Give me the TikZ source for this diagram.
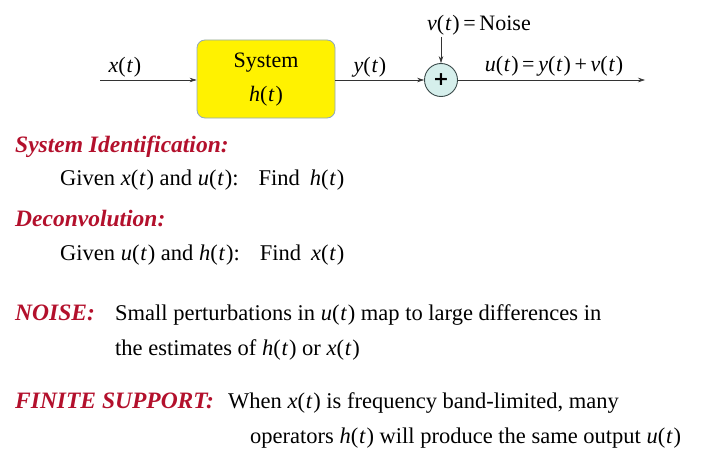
\documentclass[tikz,border=0pt]{standalone}
\usepackage{fontspec}
\setmainfont{Liberation Serif}
\newfontfamily\plusfont{DejaVu Sans}
\usetikzlibrary{arrows.meta}
\definecolor{hdred}{HTML}{B3102C}
\definecolor{boxyellow}{HTML}{FFF200}
\definecolor{boxedge}{HTML}{8FA8C0}
\definecolor{sumfill}{HTML}{D6EFEC}
\definecolor{sumedge}{HTML}{3A4A4A}
\newcommand{\mi}[1]{\textit{#1}}
\newcommand{\fn}[1]{\textit{#1}(\kern0.8pt\textit{t}\kern0.8pt)}
\tikzset{
  x=1pt, y=-1pt,
  txt/.style={anchor=base west, inner sep=0pt, font=\fontsize{22.5}{26}\selectfont},
  head/.style={txt, text=hdred, font=\fontsize{23.5}{26}\selectfont\bfseries\itshape},
  lbl/.style={anchor=base, inner sep=0pt, font=\fontsize{22}{26}\selectfont},
  sig/.style={-{Stealth[length=7pt,width=4.5pt]}, line width=0.6pt, draw=black!80},
}
\begin{document}
\begin{tikzpicture}
\useasboundingbox (0,0) rectangle (718,452);
% block diagram
\coordinate (in) at (100,80);
\node[draw=boxedge, line width=0.8pt, fill=boxyellow, rounded corners=8pt, minimum width=138pt, minimum height=78pt, inner sep=0pt] (sys) at (266,79) {};
\node[lbl] (systxt) at (266,68) {System};
\node[lbl] (htxt) at (266,102) {\fn{h}};
\node[circle, draw=sumedge, line width=0.9pt, fill=sumfill, minimum size=33pt, inner sep=0pt] (sum) at (441,80) {\plusfont\fontsize{19}{19}\selectfont\bfseries +};
\coordinate (noisetop) at (441,37);
\coordinate (out) at (645,80);
\draw[sig] (in) -- (sys.west |- in);
\draw[sig] (sys.east |- sum) -- (sum.west);
\draw[sig] (noisetop) -- (sum.north);
\draw[sig] (sum.east) -- (out);
\node[lbl] (xl) at (125,73) {\fn{x}};
\node[lbl] (yl) at (370,73) {\fn{y}};
\node[lbl] (vl) at (479,31) {\fn{v}\,=\,Noise};
\node[lbl] (ul) at (554,72) {\fn{u}\,=\,\fn{y}\,+\,\fn{v}};
% text
\node[head] (h1) at (15,152) {System Identification:};
\node[txt] (t1) at (60,185) {Given \fn{x} and \fn{u}:\hspace{20pt}Find\hspace{10pt}\fn{h}};
\node[head] (h2) at (15,226) {Deconvolution:};
\node[txt] (t2) at (60,260) {Given \fn{u} and \fn{h}:\hspace{20pt}Find\hspace{10pt}\fn{x}};
\node[head] (h3) at (15,320) {NOISE:};
\node[txt] (t3) at (115,320) {Small perturbations in \fn{u} map to large differences in};
\node[txt] (t4) at (115,355) {the estimates of \fn{h} or \fn{x}};
\node[head] (h4) at (15,408) {FINITE SUPPORT:};
\node[txt] (t5) at (228,408) {When \fn{x} is frequency band-limited, many};
\node[txt] (t6) at (250,443) {operators \fn{h} will produce the same output \fn{u}};
\end{tikzpicture}
\end{document}
